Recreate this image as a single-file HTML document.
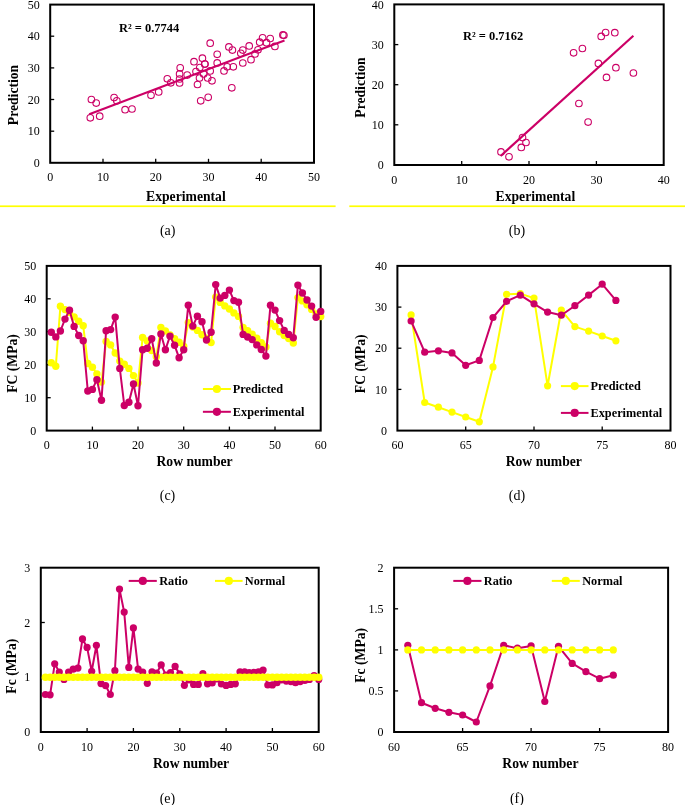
<!DOCTYPE html>
<html><head><meta charset="utf-8"><style>
html,body{margin:0;padding:0;background:#fff;}
body{width:685px;height:805px;overflow:hidden;}
svg{display:block;will-change:transform;}
.t{font-family:"Liberation Serif",serif;font-size:12px;fill:#000;}
.b{font-family:"Liberation Serif",serif;font-size:13.65px;font-weight:bold;fill:#000;}
.l{font-family:"Liberation Serif",serif;font-size:12.3px;font-weight:bold;fill:#000;}
.r{font-family:"Liberation Serif",serif;font-size:12.45px;font-weight:bold;fill:#000;}
.s{font-family:"Liberation Serif",serif;font-size:14px;fill:#000;}
</style></head><body>
<svg width="685" height="805" viewBox="0 0 685 805">
<rect width="685" height="805" fill="#fff"/>
<rect x="50.2" y="4.6" width="263.8" height="158.2" fill="none" stroke="#000" stroke-width="2"/>
<text x="39.7" y="166.9" class="t" text-anchor="end">0</text>
<line x1="50.2" y1="131.2" x2="54.2" y2="131.2" stroke="#000" stroke-width="1.3"/>
<text x="39.7" y="135.3" class="t" text-anchor="end">10</text>
<line x1="50.2" y1="99.5" x2="54.2" y2="99.5" stroke="#000" stroke-width="1.3"/>
<text x="39.7" y="103.6" class="t" text-anchor="end">20</text>
<line x1="50.2" y1="67.9" x2="54.2" y2="67.9" stroke="#000" stroke-width="1.3"/>
<text x="39.7" y="72" class="t" text-anchor="end">30</text>
<line x1="50.2" y1="36.2" x2="54.2" y2="36.2" stroke="#000" stroke-width="1.3"/>
<text x="39.7" y="40.3" class="t" text-anchor="end">40</text>
<text x="39.7" y="8.7" class="t" text-anchor="end">50</text>
<text x="50.2" y="180.9" class="t" text-anchor="middle">0</text>
<line x1="103" y1="162.8" x2="103" y2="158.8" stroke="#000" stroke-width="1.3"/>
<text x="103" y="180.9" class="t" text-anchor="middle">10</text>
<line x1="155.7" y1="162.8" x2="155.7" y2="158.8" stroke="#000" stroke-width="1.3"/>
<text x="155.7" y="180.9" class="t" text-anchor="middle">20</text>
<line x1="208.5" y1="162.8" x2="208.5" y2="158.8" stroke="#000" stroke-width="1.3"/>
<text x="208.5" y="180.9" class="t" text-anchor="middle">30</text>
<line x1="261.2" y1="162.8" x2="261.2" y2="158.8" stroke="#000" stroke-width="1.3"/>
<text x="261.2" y="180.9" class="t" text-anchor="middle">40</text>
<text x="314" y="180.9" class="t" text-anchor="middle">50</text>
<line x1="89.2" y1="114.3" x2="284.5" y2="40.4" stroke="#cc0066" stroke-width="2.1"/>
<circle cx="91.4" cy="99.5" r="3.3" fill="none" stroke="#cc0066" stroke-width="1.1"/>
<circle cx="96.2" cy="103.1" r="3.3" fill="none" stroke="#cc0066" stroke-width="1.1"/>
<circle cx="90.3" cy="117.8" r="3.3" fill="none" stroke="#cc0066" stroke-width="1.1"/>
<circle cx="99.7" cy="116.2" r="3.3" fill="none" stroke="#cc0066" stroke-width="1.1"/>
<circle cx="114.1" cy="97.6" r="3.3" fill="none" stroke="#cc0066" stroke-width="1.1"/>
<circle cx="116.8" cy="100.8" r="3.3" fill="none" stroke="#cc0066" stroke-width="1.1"/>
<circle cx="125.1" cy="109.7" r="3.3" fill="none" stroke="#cc0066" stroke-width="1.1"/>
<circle cx="132" cy="109" r="3.3" fill="none" stroke="#cc0066" stroke-width="1.1"/>
<circle cx="151" cy="95.3" r="3.3" fill="none" stroke="#cc0066" stroke-width="1.1"/>
<circle cx="158.7" cy="91.9" r="3.3" fill="none" stroke="#cc0066" stroke-width="1.1"/>
<circle cx="167.3" cy="78.8" r="3.3" fill="none" stroke="#cc0066" stroke-width="1.1"/>
<circle cx="170.8" cy="82.8" r="3.3" fill="none" stroke="#cc0066" stroke-width="1.1"/>
<circle cx="180.2" cy="67.8" r="3.3" fill="none" stroke="#cc0066" stroke-width="1.1"/>
<circle cx="179.6" cy="73.9" r="3.3" fill="none" stroke="#cc0066" stroke-width="1.1"/>
<circle cx="179.6" cy="79" r="3.3" fill="none" stroke="#cc0066" stroke-width="1.1"/>
<circle cx="179.6" cy="83" r="3.3" fill="none" stroke="#cc0066" stroke-width="1.1"/>
<circle cx="187.2" cy="75.1" r="3.3" fill="none" stroke="#cc0066" stroke-width="1.1"/>
<circle cx="194" cy="61.7" r="3.3" fill="none" stroke="#cc0066" stroke-width="1.1"/>
<circle cx="202.4" cy="58.2" r="3.3" fill="none" stroke="#cc0066" stroke-width="1.1"/>
<circle cx="204.7" cy="64" r="3.3" fill="none" stroke="#cc0066" stroke-width="1.1"/>
<circle cx="199.8" cy="67.5" r="3.3" fill="none" stroke="#cc0066" stroke-width="1.1"/>
<circle cx="196" cy="71.6" r="3.3" fill="none" stroke="#cc0066" stroke-width="1.1"/>
<circle cx="199.5" cy="78" r="3.3" fill="none" stroke="#cc0066" stroke-width="1.1"/>
<circle cx="197.5" cy="84.5" r="3.3" fill="none" stroke="#cc0066" stroke-width="1.1"/>
<circle cx="203.6" cy="73.9" r="3.3" fill="none" stroke="#cc0066" stroke-width="1.1"/>
<circle cx="207.7" cy="78" r="3.3" fill="none" stroke="#cc0066" stroke-width="1.1"/>
<circle cx="200.7" cy="100.8" r="3.3" fill="none" stroke="#cc0066" stroke-width="1.1"/>
<circle cx="208.2" cy="97.3" r="3.3" fill="none" stroke="#cc0066" stroke-width="1.1"/>
<circle cx="210.2" cy="43.2" r="3.3" fill="none" stroke="#cc0066" stroke-width="1.1"/>
<circle cx="228.9" cy="46.9" r="3.3" fill="none" stroke="#cc0066" stroke-width="1.1"/>
<circle cx="232.4" cy="50.1" r="3.3" fill="none" stroke="#cc0066" stroke-width="1.1"/>
<circle cx="217.2" cy="54.3" r="3.3" fill="none" stroke="#cc0066" stroke-width="1.1"/>
<circle cx="205" cy="64.1" r="3.3" fill="none" stroke="#cc0066" stroke-width="1.1"/>
<circle cx="217.2" cy="62.9" r="3.3" fill="none" stroke="#cc0066" stroke-width="1.1"/>
<circle cx="227.2" cy="66.8" r="3.3" fill="none" stroke="#cc0066" stroke-width="1.1"/>
<circle cx="233.3" cy="66.8" r="3.3" fill="none" stroke="#cc0066" stroke-width="1.1"/>
<circle cx="224" cy="70.9" r="3.3" fill="none" stroke="#cc0066" stroke-width="1.1"/>
<circle cx="210.2" cy="70.9" r="3.3" fill="none" stroke="#cc0066" stroke-width="1.1"/>
<circle cx="212" cy="80.8" r="3.3" fill="none" stroke="#cc0066" stroke-width="1.1"/>
<circle cx="231.8" cy="87.8" r="3.3" fill="none" stroke="#cc0066" stroke-width="1.1"/>
<circle cx="240.8" cy="53.3" r="3.3" fill="none" stroke="#cc0066" stroke-width="1.1"/>
<circle cx="282.9" cy="34.9" r="3.3" fill="none" stroke="#cc0066" stroke-width="1.1"/>
<circle cx="283.9" cy="35.3" r="3.3" fill="none" stroke="#cc0066" stroke-width="1.1"/>
<circle cx="270.2" cy="38.5" r="3.3" fill="none" stroke="#cc0066" stroke-width="1.1"/>
<circle cx="262.6" cy="37.8" r="3.3" fill="none" stroke="#cc0066" stroke-width="1.1"/>
<circle cx="259.7" cy="42.2" r="3.3" fill="none" stroke="#cc0066" stroke-width="1.1"/>
<circle cx="266.5" cy="42.7" r="3.3" fill="none" stroke="#cc0066" stroke-width="1.1"/>
<circle cx="274.9" cy="46.4" r="3.3" fill="none" stroke="#cc0066" stroke-width="1.1"/>
<circle cx="249.2" cy="45.9" r="3.3" fill="none" stroke="#cc0066" stroke-width="1.1"/>
<circle cx="242.8" cy="50.1" r="3.3" fill="none" stroke="#cc0066" stroke-width="1.1"/>
<circle cx="258" cy="49.8" r="3.3" fill="none" stroke="#cc0066" stroke-width="1.1"/>
<circle cx="255" cy="53.9" r="3.3" fill="none" stroke="#cc0066" stroke-width="1.1"/>
<circle cx="251" cy="59.7" r="3.3" fill="none" stroke="#cc0066" stroke-width="1.1"/>
<circle cx="242.8" cy="63" r="3.3" fill="none" stroke="#cc0066" stroke-width="1.1"/>
<text x="119" y="32" class="r">R² = 0.7744</text>
<text transform="translate(17.5,95) rotate(-90)" class="b" text-anchor="middle">Prediction</text>
<text x="185.9" y="201" class="b" text-anchor="middle">Experimental</text>
<rect x="394.3" y="4.4" width="269.4" height="160.6" fill="none" stroke="#000" stroke-width="2"/>
<text x="383.8" y="169.1" class="t" text-anchor="end">0</text>
<line x1="394.3" y1="124.8" x2="398.3" y2="124.8" stroke="#000" stroke-width="1.3"/>
<text x="383.8" y="128.9" class="t" text-anchor="end">10</text>
<line x1="394.3" y1="84.7" x2="398.3" y2="84.7" stroke="#000" stroke-width="1.3"/>
<text x="383.8" y="88.8" class="t" text-anchor="end">20</text>
<line x1="394.3" y1="44.6" x2="398.3" y2="44.6" stroke="#000" stroke-width="1.3"/>
<text x="383.8" y="48.7" class="t" text-anchor="end">30</text>
<text x="383.8" y="8.5" class="t" text-anchor="end">40</text>
<text x="394.3" y="183.8" class="t" text-anchor="middle">0</text>
<line x1="461.7" y1="165" x2="461.7" y2="161" stroke="#000" stroke-width="1.3"/>
<text x="461.7" y="183.8" class="t" text-anchor="middle">10</text>
<line x1="529" y1="165" x2="529" y2="161" stroke="#000" stroke-width="1.3"/>
<text x="529" y="183.8" class="t" text-anchor="middle">20</text>
<line x1="596.4" y1="165" x2="596.4" y2="161" stroke="#000" stroke-width="1.3"/>
<text x="596.4" y="183.8" class="t" text-anchor="middle">30</text>
<text x="663.7" y="183.8" class="t" text-anchor="middle">40</text>
<line x1="500.6" y1="156" x2="633.4" y2="35.8" stroke="#cc0066" stroke-width="2.2"/>
<circle cx="605.6" cy="32.5" r="3.3" fill="none" stroke="#cc0066" stroke-width="1.1"/>
<circle cx="614.8" cy="32.7" r="3.3" fill="none" stroke="#cc0066" stroke-width="1.1"/>
<circle cx="601.2" cy="36.4" r="3.3" fill="none" stroke="#cc0066" stroke-width="1.1"/>
<circle cx="582.4" cy="48.5" r="3.3" fill="none" stroke="#cc0066" stroke-width="1.1"/>
<circle cx="573.6" cy="52.8" r="3.3" fill="none" stroke="#cc0066" stroke-width="1.1"/>
<circle cx="598.4" cy="63.4" r="3.3" fill="none" stroke="#cc0066" stroke-width="1.1"/>
<circle cx="615.9" cy="67.7" r="3.3" fill="none" stroke="#cc0066" stroke-width="1.1"/>
<circle cx="606.5" cy="77.4" r="3.3" fill="none" stroke="#cc0066" stroke-width="1.1"/>
<circle cx="633.4" cy="73" r="3.3" fill="none" stroke="#cc0066" stroke-width="1.1"/>
<circle cx="578.9" cy="103.5" r="3.3" fill="none" stroke="#cc0066" stroke-width="1.1"/>
<circle cx="588.1" cy="122.1" r="3.3" fill="none" stroke="#cc0066" stroke-width="1.1"/>
<circle cx="522.5" cy="137.6" r="3.3" fill="none" stroke="#cc0066" stroke-width="1.1"/>
<circle cx="526" cy="142.5" r="3.3" fill="none" stroke="#cc0066" stroke-width="1.1"/>
<circle cx="521.3" cy="147.4" r="3.3" fill="none" stroke="#cc0066" stroke-width="1.1"/>
<circle cx="501" cy="151.9" r="3.3" fill="none" stroke="#cc0066" stroke-width="1.1"/>
<circle cx="509" cy="156.8" r="3.3" fill="none" stroke="#cc0066" stroke-width="1.1"/>
<text x="463" y="39.6" class="r">R² = 0.7162</text>
<text transform="translate(365.4,87.5) rotate(-90)" class="b" text-anchor="middle">Prediction</text>
<text x="535.4" y="200.6" class="b" text-anchor="middle">Experimental</text>
<rect x="0" y="205.4" width="335.6" height="1.7" fill="#ffff00"/>
<rect x="349.3" y="205.4" width="335.7" height="1.7" fill="#ffff00"/>
<text x="167.7" y="235.2" class="s" text-anchor="middle">(a)</text>
<text x="517" y="235.4" class="s" text-anchor="middle">(b)</text>
<rect x="46.7" y="265.9" width="274" height="164.7" fill="none" stroke="#000" stroke-width="2"/>
<text x="36.2" y="434.7" class="t" text-anchor="end">0</text>
<line x1="46.7" y1="397.7" x2="50.7" y2="397.7" stroke="#000" stroke-width="1.3"/>
<text x="36.2" y="401.8" class="t" text-anchor="end">10</text>
<line x1="46.7" y1="364.7" x2="50.7" y2="364.7" stroke="#000" stroke-width="1.3"/>
<text x="36.2" y="368.8" class="t" text-anchor="end">20</text>
<line x1="46.7" y1="331.8" x2="50.7" y2="331.8" stroke="#000" stroke-width="1.3"/>
<text x="36.2" y="335.9" class="t" text-anchor="end">30</text>
<line x1="46.7" y1="298.8" x2="50.7" y2="298.8" stroke="#000" stroke-width="1.3"/>
<text x="36.2" y="302.9" class="t" text-anchor="end">40</text>
<text x="36.2" y="270" class="t" text-anchor="end">50</text>
<text x="46.7" y="449.4" class="t" text-anchor="middle">0</text>
<line x1="92.4" y1="430.6" x2="92.4" y2="426.6" stroke="#000" stroke-width="1.3"/>
<text x="92.4" y="449.4" class="t" text-anchor="middle">10</text>
<line x1="138" y1="430.6" x2="138" y2="426.6" stroke="#000" stroke-width="1.3"/>
<text x="138" y="449.4" class="t" text-anchor="middle">20</text>
<line x1="183.7" y1="430.6" x2="183.7" y2="426.6" stroke="#000" stroke-width="1.3"/>
<text x="183.7" y="449.4" class="t" text-anchor="middle">30</text>
<line x1="229.4" y1="430.6" x2="229.4" y2="426.6" stroke="#000" stroke-width="1.3"/>
<text x="229.4" y="449.4" class="t" text-anchor="middle">40</text>
<line x1="275" y1="430.6" x2="275" y2="426.6" stroke="#000" stroke-width="1.3"/>
<text x="275" y="449.4" class="t" text-anchor="middle">50</text>
<text x="320.7" y="449.4" class="t" text-anchor="middle">60</text>
<polyline points="51.3,362.7 55.8,366.3 60.4,306.3 65,309.6 69.5,312.5 74.1,316.9 78.7,321.3 83.2,325.7 87.8,363.5 92.4,367.2 96.9,374 101.5,382.1 106.1,341.4 110.6,344.9 115.2,353 119.8,361.1 124.3,364.3 128.9,368.4 133.5,375.6 138,383 142.6,337.5 147.2,341 151.7,350.5 156.3,356.8 160.9,327.4 165.4,330.9 170,334.9 174.6,338.8 179.1,342.3 183.7,346.3 188.3,322.6 192.8,327 197.4,330.4 202,334.8 206.5,338.3 211.1,342.6 215.7,297.1 220.2,302.4 224.8,305.9 229.4,309 233.9,312.9 238.5,316.4 243.1,327.5 247.6,330.8 252.2,334.2 256.8,338.3 261.3,342.6 265.9,346.9 270.5,323.2 275,326.5 279.6,331.8 284.2,335.5 288.7,338.5 293.3,343 297.9,297.6 302.4,300.9 307,304.8 311.6,309.4 316.1,314 320.7,316.6" fill="none" stroke="#ffff00" stroke-width="2" stroke-linejoin="round"/>
<circle cx="51.3" cy="362.7" r="3.7" fill="#ffff00"/>
<circle cx="55.8" cy="366.3" r="3.7" fill="#ffff00"/>
<circle cx="60.4" cy="306.3" r="3.7" fill="#ffff00"/>
<circle cx="65" cy="309.6" r="3.7" fill="#ffff00"/>
<circle cx="69.5" cy="312.5" r="3.7" fill="#ffff00"/>
<circle cx="74.1" cy="316.9" r="3.7" fill="#ffff00"/>
<circle cx="78.7" cy="321.3" r="3.7" fill="#ffff00"/>
<circle cx="83.2" cy="325.7" r="3.7" fill="#ffff00"/>
<circle cx="87.8" cy="363.5" r="3.7" fill="#ffff00"/>
<circle cx="92.4" cy="367.2" r="3.7" fill="#ffff00"/>
<circle cx="96.9" cy="374" r="3.7" fill="#ffff00"/>
<circle cx="101.5" cy="382.1" r="3.7" fill="#ffff00"/>
<circle cx="106.1" cy="341.4" r="3.7" fill="#ffff00"/>
<circle cx="110.6" cy="344.9" r="3.7" fill="#ffff00"/>
<circle cx="115.2" cy="353" r="3.7" fill="#ffff00"/>
<circle cx="119.8" cy="361.1" r="3.7" fill="#ffff00"/>
<circle cx="124.3" cy="364.3" r="3.7" fill="#ffff00"/>
<circle cx="128.9" cy="368.4" r="3.7" fill="#ffff00"/>
<circle cx="133.5" cy="375.6" r="3.7" fill="#ffff00"/>
<circle cx="138" cy="383" r="3.7" fill="#ffff00"/>
<circle cx="142.6" cy="337.5" r="3.7" fill="#ffff00"/>
<circle cx="147.2" cy="341" r="3.7" fill="#ffff00"/>
<circle cx="151.7" cy="350.5" r="3.7" fill="#ffff00"/>
<circle cx="156.3" cy="356.8" r="3.7" fill="#ffff00"/>
<circle cx="160.9" cy="327.4" r="3.7" fill="#ffff00"/>
<circle cx="165.4" cy="330.9" r="3.7" fill="#ffff00"/>
<circle cx="170" cy="334.9" r="3.7" fill="#ffff00"/>
<circle cx="174.6" cy="338.8" r="3.7" fill="#ffff00"/>
<circle cx="179.1" cy="342.3" r="3.7" fill="#ffff00"/>
<circle cx="183.7" cy="346.3" r="3.7" fill="#ffff00"/>
<circle cx="188.3" cy="322.6" r="3.7" fill="#ffff00"/>
<circle cx="192.8" cy="327" r="3.7" fill="#ffff00"/>
<circle cx="197.4" cy="330.4" r="3.7" fill="#ffff00"/>
<circle cx="202" cy="334.8" r="3.7" fill="#ffff00"/>
<circle cx="206.5" cy="338.3" r="3.7" fill="#ffff00"/>
<circle cx="211.1" cy="342.6" r="3.7" fill="#ffff00"/>
<circle cx="215.7" cy="297.1" r="3.7" fill="#ffff00"/>
<circle cx="220.2" cy="302.4" r="3.7" fill="#ffff00"/>
<circle cx="224.8" cy="305.9" r="3.7" fill="#ffff00"/>
<circle cx="229.4" cy="309" r="3.7" fill="#ffff00"/>
<circle cx="233.9" cy="312.9" r="3.7" fill="#ffff00"/>
<circle cx="238.5" cy="316.4" r="3.7" fill="#ffff00"/>
<circle cx="243.1" cy="327.5" r="3.7" fill="#ffff00"/>
<circle cx="247.6" cy="330.8" r="3.7" fill="#ffff00"/>
<circle cx="252.2" cy="334.2" r="3.7" fill="#ffff00"/>
<circle cx="256.8" cy="338.3" r="3.7" fill="#ffff00"/>
<circle cx="261.3" cy="342.6" r="3.7" fill="#ffff00"/>
<circle cx="265.9" cy="346.9" r="3.7" fill="#ffff00"/>
<circle cx="270.5" cy="323.2" r="3.7" fill="#ffff00"/>
<circle cx="275" cy="326.5" r="3.7" fill="#ffff00"/>
<circle cx="279.6" cy="331.8" r="3.7" fill="#ffff00"/>
<circle cx="284.2" cy="335.5" r="3.7" fill="#ffff00"/>
<circle cx="288.7" cy="338.5" r="3.7" fill="#ffff00"/>
<circle cx="293.3" cy="343" r="3.7" fill="#ffff00"/>
<circle cx="297.9" cy="297.6" r="3.7" fill="#ffff00"/>
<circle cx="302.4" cy="300.9" r="3.7" fill="#ffff00"/>
<circle cx="307" cy="304.8" r="3.7" fill="#ffff00"/>
<circle cx="311.6" cy="309.4" r="3.7" fill="#ffff00"/>
<circle cx="316.1" cy="314" r="3.7" fill="#ffff00"/>
<circle cx="320.7" cy="316.6" r="3.7" fill="#ffff00"/>
<polyline points="51.3,332.2 55.8,336.9 60.4,331 65,319.1 69.5,310.3 74.1,326.4 78.7,335.5 83.2,340.7 87.8,391 92.4,389.4 96.9,379.7 101.5,400.2 106.1,330.7 110.6,329.6 115.2,317.1 119.8,368.4 124.3,405.5 128.9,402.3 133.5,384 138,405.8 142.6,349.7 147.2,348.2 151.7,338.8 156.3,363 160.9,334 165.4,349.7 170,336.1 174.6,345.3 179.1,357.8 183.7,349.7 188.3,305.2 192.8,326.1 197.4,316.2 202,321.7 206.5,340 211.1,332.2 215.7,284.6 220.2,298.1 224.8,295.4 229.4,290.1 233.9,300.6 238.5,302.3 243.1,334.4 247.6,337 252.2,339.6 256.8,344.9 261.3,349.5 265.9,356.1 270.5,305.2 275,310.1 279.6,320.6 284.2,330.4 288.7,334.4 293.3,337.7 297.9,285.1 302.4,293 307,300 311.6,306.1 316.1,317.3 320.7,311.4" fill="none" stroke="#cc0066" stroke-width="2" stroke-linejoin="round"/>
<circle cx="51.3" cy="332.2" r="3.7" fill="#cc0066"/>
<circle cx="55.8" cy="336.9" r="3.7" fill="#cc0066"/>
<circle cx="60.4" cy="331" r="3.7" fill="#cc0066"/>
<circle cx="65" cy="319.1" r="3.7" fill="#cc0066"/>
<circle cx="69.5" cy="310.3" r="3.7" fill="#cc0066"/>
<circle cx="74.1" cy="326.4" r="3.7" fill="#cc0066"/>
<circle cx="78.7" cy="335.5" r="3.7" fill="#cc0066"/>
<circle cx="83.2" cy="340.7" r="3.7" fill="#cc0066"/>
<circle cx="87.8" cy="391" r="3.7" fill="#cc0066"/>
<circle cx="92.4" cy="389.4" r="3.7" fill="#cc0066"/>
<circle cx="96.9" cy="379.7" r="3.7" fill="#cc0066"/>
<circle cx="101.5" cy="400.2" r="3.7" fill="#cc0066"/>
<circle cx="106.1" cy="330.7" r="3.7" fill="#cc0066"/>
<circle cx="110.6" cy="329.6" r="3.7" fill="#cc0066"/>
<circle cx="115.2" cy="317.1" r="3.7" fill="#cc0066"/>
<circle cx="119.8" cy="368.4" r="3.7" fill="#cc0066"/>
<circle cx="124.3" cy="405.5" r="3.7" fill="#cc0066"/>
<circle cx="128.9" cy="402.3" r="3.7" fill="#cc0066"/>
<circle cx="133.5" cy="384" r="3.7" fill="#cc0066"/>
<circle cx="138" cy="405.8" r="3.7" fill="#cc0066"/>
<circle cx="142.6" cy="349.7" r="3.7" fill="#cc0066"/>
<circle cx="147.2" cy="348.2" r="3.7" fill="#cc0066"/>
<circle cx="151.7" cy="338.8" r="3.7" fill="#cc0066"/>
<circle cx="156.3" cy="363" r="3.7" fill="#cc0066"/>
<circle cx="160.9" cy="334" r="3.7" fill="#cc0066"/>
<circle cx="165.4" cy="349.7" r="3.7" fill="#cc0066"/>
<circle cx="170" cy="336.1" r="3.7" fill="#cc0066"/>
<circle cx="174.6" cy="345.3" r="3.7" fill="#cc0066"/>
<circle cx="179.1" cy="357.8" r="3.7" fill="#cc0066"/>
<circle cx="183.7" cy="349.7" r="3.7" fill="#cc0066"/>
<circle cx="188.3" cy="305.2" r="3.7" fill="#cc0066"/>
<circle cx="192.8" cy="326.1" r="3.7" fill="#cc0066"/>
<circle cx="197.4" cy="316.2" r="3.7" fill="#cc0066"/>
<circle cx="202" cy="321.7" r="3.7" fill="#cc0066"/>
<circle cx="206.5" cy="340" r="3.7" fill="#cc0066"/>
<circle cx="211.1" cy="332.2" r="3.7" fill="#cc0066"/>
<circle cx="215.7" cy="284.6" r="3.7" fill="#cc0066"/>
<circle cx="220.2" cy="298.1" r="3.7" fill="#cc0066"/>
<circle cx="224.8" cy="295.4" r="3.7" fill="#cc0066"/>
<circle cx="229.4" cy="290.1" r="3.7" fill="#cc0066"/>
<circle cx="233.9" cy="300.6" r="3.7" fill="#cc0066"/>
<circle cx="238.5" cy="302.3" r="3.7" fill="#cc0066"/>
<circle cx="243.1" cy="334.4" r="3.7" fill="#cc0066"/>
<circle cx="247.6" cy="337" r="3.7" fill="#cc0066"/>
<circle cx="252.2" cy="339.6" r="3.7" fill="#cc0066"/>
<circle cx="256.8" cy="344.9" r="3.7" fill="#cc0066"/>
<circle cx="261.3" cy="349.5" r="3.7" fill="#cc0066"/>
<circle cx="265.9" cy="356.1" r="3.7" fill="#cc0066"/>
<circle cx="270.5" cy="305.2" r="3.7" fill="#cc0066"/>
<circle cx="275" cy="310.1" r="3.7" fill="#cc0066"/>
<circle cx="279.6" cy="320.6" r="3.7" fill="#cc0066"/>
<circle cx="284.2" cy="330.4" r="3.7" fill="#cc0066"/>
<circle cx="288.7" cy="334.4" r="3.7" fill="#cc0066"/>
<circle cx="293.3" cy="337.7" r="3.7" fill="#cc0066"/>
<circle cx="297.9" cy="285.1" r="3.7" fill="#cc0066"/>
<circle cx="302.4" cy="293" r="3.7" fill="#cc0066"/>
<circle cx="307" cy="300" r="3.7" fill="#cc0066"/>
<circle cx="311.6" cy="306.1" r="3.7" fill="#cc0066"/>
<circle cx="316.1" cy="317.3" r="3.7" fill="#cc0066"/>
<circle cx="320.7" cy="311.4" r="3.7" fill="#cc0066"/>
<line x1="202.9" y1="389" x2="230.9" y2="389" stroke="#ffff00" stroke-width="2"/>
<circle cx="216.9" cy="389" r="4.1" fill="#ffff00"/>
<text x="232.8" y="392.9" class="l">Predicted</text>
<line x1="202.9" y1="411.8" x2="230.9" y2="411.8" stroke="#cc0066" stroke-width="2"/>
<circle cx="216.9" cy="411.8" r="4.1" fill="#cc0066"/>
<text x="232.8" y="415.7" class="l">Experimental</text>
<text transform="translate(16.8,363.5) rotate(-90)" class="b" text-anchor="middle">FC (MPa)</text>
<text x="194.6" y="465.8" class="b" text-anchor="middle">Row number</text>
<text x="167.5" y="500.3" class="s" text-anchor="middle">(c)</text>
<rect x="397.4" y="265.9" width="273.1" height="164.7" fill="none" stroke="#000" stroke-width="2"/>
<text x="386.9" y="434.7" class="t" text-anchor="end">0</text>
<line x1="397.4" y1="389.4" x2="401.4" y2="389.4" stroke="#000" stroke-width="1.3"/>
<text x="386.9" y="393.5" class="t" text-anchor="end">10</text>
<line x1="397.4" y1="348.2" x2="401.4" y2="348.2" stroke="#000" stroke-width="1.3"/>
<text x="386.9" y="352.4" class="t" text-anchor="end">20</text>
<line x1="397.4" y1="307.1" x2="401.4" y2="307.1" stroke="#000" stroke-width="1.3"/>
<text x="386.9" y="311.2" class="t" text-anchor="end">30</text>
<text x="386.9" y="270" class="t" text-anchor="end">40</text>
<text x="397.4" y="449.4" class="t" text-anchor="middle">60</text>
<line x1="465.7" y1="430.6" x2="465.7" y2="426.6" stroke="#000" stroke-width="1.3"/>
<text x="465.7" y="449.4" class="t" text-anchor="middle">65</text>
<line x1="534" y1="430.6" x2="534" y2="426.6" stroke="#000" stroke-width="1.3"/>
<text x="534" y="449.4" class="t" text-anchor="middle">70</text>
<line x1="602.2" y1="430.6" x2="602.2" y2="426.6" stroke="#000" stroke-width="1.3"/>
<text x="602.2" y="449.4" class="t" text-anchor="middle">75</text>
<text x="670.5" y="449.4" class="t" text-anchor="middle">80</text>
<polyline points="411.1,314.9 424.7,402.5 438.4,407.2 452,412.1 465.7,417 479.3,421.8 493,366.9 506.6,294.3 520.3,293.7 534,298.1 547.6,385.8 561.3,310.2 574.9,326.6 588.6,331.1 602.2,336 615.9,340.8" fill="none" stroke="#ffff00" stroke-width="2" stroke-linejoin="round"/>
<circle cx="411.1" cy="314.9" r="3.6" fill="#ffff00"/>
<circle cx="424.7" cy="402.5" r="3.6" fill="#ffff00"/>
<circle cx="438.4" cy="407.2" r="3.6" fill="#ffff00"/>
<circle cx="452" cy="412.1" r="3.6" fill="#ffff00"/>
<circle cx="465.7" cy="417" r="3.6" fill="#ffff00"/>
<circle cx="479.3" cy="421.8" r="3.6" fill="#ffff00"/>
<circle cx="493" cy="366.9" r="3.6" fill="#ffff00"/>
<circle cx="506.6" cy="294.3" r="3.6" fill="#ffff00"/>
<circle cx="520.3" cy="293.7" r="3.6" fill="#ffff00"/>
<circle cx="534" cy="298.1" r="3.6" fill="#ffff00"/>
<circle cx="547.6" cy="385.8" r="3.6" fill="#ffff00"/>
<circle cx="561.3" cy="310.2" r="3.6" fill="#ffff00"/>
<circle cx="574.9" cy="326.6" r="3.6" fill="#ffff00"/>
<circle cx="588.6" cy="331.1" r="3.6" fill="#ffff00"/>
<circle cx="602.2" cy="336" r="3.6" fill="#ffff00"/>
<circle cx="615.9" cy="340.8" r="3.6" fill="#ffff00"/>
<polyline points="411.1,321 424.7,352.2 438.4,350.8 452,352.9 465.7,365.3 479.3,360.4 493,317.5 506.6,301.3 520.3,295.2 534,303.8 547.6,312.1 561.3,315.2 574.9,305.7 588.6,295.1 602.2,284.2 615.9,300.4" fill="none" stroke="#cc0066" stroke-width="2" stroke-linejoin="round"/>
<circle cx="411.1" cy="321" r="3.6" fill="#cc0066"/>
<circle cx="424.7" cy="352.2" r="3.6" fill="#cc0066"/>
<circle cx="438.4" cy="350.8" r="3.6" fill="#cc0066"/>
<circle cx="452" cy="352.9" r="3.6" fill="#cc0066"/>
<circle cx="465.7" cy="365.3" r="3.6" fill="#cc0066"/>
<circle cx="479.3" cy="360.4" r="3.6" fill="#cc0066"/>
<circle cx="493" cy="317.5" r="3.6" fill="#cc0066"/>
<circle cx="506.6" cy="301.3" r="3.6" fill="#cc0066"/>
<circle cx="520.3" cy="295.2" r="3.6" fill="#cc0066"/>
<circle cx="534" cy="303.8" r="3.6" fill="#cc0066"/>
<circle cx="547.6" cy="312.1" r="3.6" fill="#cc0066"/>
<circle cx="561.3" cy="315.2" r="3.6" fill="#cc0066"/>
<circle cx="574.9" cy="305.7" r="3.6" fill="#cc0066"/>
<circle cx="588.6" cy="295.1" r="3.6" fill="#cc0066"/>
<circle cx="602.2" cy="284.2" r="3.6" fill="#cc0066"/>
<circle cx="615.9" cy="300.4" r="3.6" fill="#cc0066"/>
<line x1="560.9" y1="386.1" x2="588.5" y2="386.1" stroke="#ffff00" stroke-width="2"/>
<circle cx="574.7" cy="386.1" r="4.1" fill="#ffff00"/>
<text x="590.5" y="390" class="l">Predicted</text>
<line x1="560.9" y1="412.9" x2="588.5" y2="412.9" stroke="#cc0066" stroke-width="2"/>
<circle cx="574.7" cy="412.9" r="4.1" fill="#cc0066"/>
<text x="590.5" y="416.8" class="l">Experimental</text>
<text transform="translate(365.2,363.8) rotate(-90)" class="b" text-anchor="middle">FC (MPa)</text>
<text x="543.8" y="466" class="b" text-anchor="middle">Row number</text>
<text x="517" y="500.4" class="s" text-anchor="middle">(d)</text>
<rect x="40.8" y="567.7" width="277.9" height="164.3" fill="none" stroke="#000" stroke-width="2"/>
<text x="30.3" y="736.1" class="t" text-anchor="end">0</text>
<line x1="40.8" y1="677.2" x2="44.8" y2="677.2" stroke="#000" stroke-width="1.3"/>
<text x="30.3" y="681.3" class="t" text-anchor="end">1</text>
<line x1="40.8" y1="622.5" x2="44.8" y2="622.5" stroke="#000" stroke-width="1.3"/>
<text x="30.3" y="626.6" class="t" text-anchor="end">2</text>
<text x="30.3" y="571.8" class="t" text-anchor="end">3</text>
<text x="40.8" y="750.8" class="t" text-anchor="middle">0</text>
<line x1="87.1" y1="732" x2="87.1" y2="728" stroke="#000" stroke-width="1.3"/>
<text x="87.1" y="750.8" class="t" text-anchor="middle">10</text>
<line x1="133.4" y1="732" x2="133.4" y2="728" stroke="#000" stroke-width="1.3"/>
<text x="133.4" y="750.8" class="t" text-anchor="middle">20</text>
<line x1="179.8" y1="732" x2="179.8" y2="728" stroke="#000" stroke-width="1.3"/>
<text x="179.8" y="750.8" class="t" text-anchor="middle">30</text>
<line x1="226.1" y1="732" x2="226.1" y2="728" stroke="#000" stroke-width="1.3"/>
<text x="226.1" y="750.8" class="t" text-anchor="middle">40</text>
<line x1="272.4" y1="732" x2="272.4" y2="728" stroke="#000" stroke-width="1.3"/>
<text x="272.4" y="750.8" class="t" text-anchor="middle">50</text>
<text x="318.7" y="750.8" class="t" text-anchor="middle">60</text>
<polyline points="45.4,694.5 50.1,694.8 54.7,663.8 59.3,672 64,679.4 68.6,672 73.2,669.2 77.9,668.1 82.5,638.9 87.1,647.4 91.7,671.3 96.4,645.3 101,683.6 105.6,685.6 110.3,694.5 114.9,670.7 119.5,589.1 124.2,612.1 128.8,667.4 133.4,627.9 138.1,669.1 142.7,672.1 147.3,683.3 152,671.8 156.6,673.1 161.2,664.9 165.9,675 170.5,672.6 175.1,666.4 179.8,673.9 184.4,685.3 189,680 193.6,684.4 198.3,684.4 202.9,673.7 207.5,683.8 212.2,683 216.8,678.9 221.4,684 226.1,685.4 230.7,684.4 235.3,683.8 240,671.8 244.6,671.8 249.2,672.6 253.9,672.3 258.5,671.8 263.1,670.1 267.8,685 272.4,684.9 277,682.7 281.6,680 286.3,681.1 290.9,681.6 295.5,682.7 300.2,681.6 304.8,680.5 309.4,679.4 314.1,675.6 318.7,679.4" fill="none" stroke="#cc0066" stroke-width="2" stroke-linejoin="round"/>
<circle cx="45.4" cy="694.5" r="3.6" fill="#cc0066"/>
<circle cx="50.1" cy="694.8" r="3.6" fill="#cc0066"/>
<circle cx="54.7" cy="663.8" r="3.6" fill="#cc0066"/>
<circle cx="59.3" cy="672" r="3.6" fill="#cc0066"/>
<circle cx="64" cy="679.4" r="3.6" fill="#cc0066"/>
<circle cx="68.6" cy="672" r="3.6" fill="#cc0066"/>
<circle cx="73.2" cy="669.2" r="3.6" fill="#cc0066"/>
<circle cx="77.9" cy="668.1" r="3.6" fill="#cc0066"/>
<circle cx="82.5" cy="638.9" r="3.6" fill="#cc0066"/>
<circle cx="87.1" cy="647.4" r="3.6" fill="#cc0066"/>
<circle cx="91.7" cy="671.3" r="3.6" fill="#cc0066"/>
<circle cx="96.4" cy="645.3" r="3.6" fill="#cc0066"/>
<circle cx="101" cy="683.6" r="3.6" fill="#cc0066"/>
<circle cx="105.6" cy="685.6" r="3.6" fill="#cc0066"/>
<circle cx="110.3" cy="694.5" r="3.6" fill="#cc0066"/>
<circle cx="114.9" cy="670.7" r="3.6" fill="#cc0066"/>
<circle cx="119.5" cy="589.1" r="3.6" fill="#cc0066"/>
<circle cx="124.2" cy="612.1" r="3.6" fill="#cc0066"/>
<circle cx="128.8" cy="667.4" r="3.6" fill="#cc0066"/>
<circle cx="133.4" cy="627.9" r="3.6" fill="#cc0066"/>
<circle cx="138.1" cy="669.1" r="3.6" fill="#cc0066"/>
<circle cx="142.7" cy="672.1" r="3.6" fill="#cc0066"/>
<circle cx="147.3" cy="683.3" r="3.6" fill="#cc0066"/>
<circle cx="152" cy="671.8" r="3.6" fill="#cc0066"/>
<circle cx="156.6" cy="673.1" r="3.6" fill="#cc0066"/>
<circle cx="161.2" cy="664.9" r="3.6" fill="#cc0066"/>
<circle cx="165.9" cy="675" r="3.6" fill="#cc0066"/>
<circle cx="170.5" cy="672.6" r="3.6" fill="#cc0066"/>
<circle cx="175.1" cy="666.4" r="3.6" fill="#cc0066"/>
<circle cx="179.8" cy="673.9" r="3.6" fill="#cc0066"/>
<circle cx="184.4" cy="685.3" r="3.6" fill="#cc0066"/>
<circle cx="189" cy="680" r="3.6" fill="#cc0066"/>
<circle cx="193.6" cy="684.4" r="3.6" fill="#cc0066"/>
<circle cx="198.3" cy="684.4" r="3.6" fill="#cc0066"/>
<circle cx="202.9" cy="673.7" r="3.6" fill="#cc0066"/>
<circle cx="207.5" cy="683.8" r="3.6" fill="#cc0066"/>
<circle cx="212.2" cy="683" r="3.6" fill="#cc0066"/>
<circle cx="216.8" cy="678.9" r="3.6" fill="#cc0066"/>
<circle cx="221.4" cy="684" r="3.6" fill="#cc0066"/>
<circle cx="226.1" cy="685.4" r="3.6" fill="#cc0066"/>
<circle cx="230.7" cy="684.4" r="3.6" fill="#cc0066"/>
<circle cx="235.3" cy="683.8" r="3.6" fill="#cc0066"/>
<circle cx="240" cy="671.8" r="3.6" fill="#cc0066"/>
<circle cx="244.6" cy="671.8" r="3.6" fill="#cc0066"/>
<circle cx="249.2" cy="672.6" r="3.6" fill="#cc0066"/>
<circle cx="253.9" cy="672.3" r="3.6" fill="#cc0066"/>
<circle cx="258.5" cy="671.8" r="3.6" fill="#cc0066"/>
<circle cx="263.1" cy="670.1" r="3.6" fill="#cc0066"/>
<circle cx="267.8" cy="685" r="3.6" fill="#cc0066"/>
<circle cx="272.4" cy="684.9" r="3.6" fill="#cc0066"/>
<circle cx="277" cy="682.7" r="3.6" fill="#cc0066"/>
<circle cx="281.6" cy="680" r="3.6" fill="#cc0066"/>
<circle cx="286.3" cy="681.1" r="3.6" fill="#cc0066"/>
<circle cx="290.9" cy="681.6" r="3.6" fill="#cc0066"/>
<circle cx="295.5" cy="682.7" r="3.6" fill="#cc0066"/>
<circle cx="300.2" cy="681.6" r="3.6" fill="#cc0066"/>
<circle cx="304.8" cy="680.5" r="3.6" fill="#cc0066"/>
<circle cx="309.4" cy="679.4" r="3.6" fill="#cc0066"/>
<circle cx="314.1" cy="675.6" r="3.6" fill="#cc0066"/>
<circle cx="318.7" cy="679.4" r="3.6" fill="#cc0066"/>
<polyline points="45.4,677.2 50.1,677.2 54.7,677.2 59.3,677.2 64,677.2 68.6,677.2 73.2,677.2 77.9,677.2 82.5,677.2 87.1,677.2 91.7,677.2 96.4,677.2 101,677.2 105.6,677.2 110.3,677.2 114.9,677.2 119.5,677.2 124.2,677.2 128.8,677.2 133.4,677.2 138.1,677.2 142.7,677.2 147.3,677.2 152,677.2 156.6,677.2 161.2,677.2 165.9,677.2 170.5,677.2 175.1,677.2 179.8,677.2 184.4,677.2 189,677.2 193.6,677.2 198.3,677.2 202.9,677.2 207.5,677.2 212.2,677.2 216.8,677.2 221.4,677.2 226.1,677.2 230.7,677.2 235.3,677.2 240,677.2 244.6,677.2 249.2,677.2 253.9,677.2 258.5,677.2 263.1,677.2 267.8,677.2 272.4,677.2 277,677.2 281.6,677.2 286.3,677.2 290.9,677.2 295.5,677.2 300.2,677.2 304.8,677.2 309.4,677.2 314.1,677.2 318.7,677.2" fill="none" stroke="#ffff00" stroke-width="2" stroke-linejoin="round"/>
<circle cx="45.4" cy="677.2" r="3.8" fill="#ffff00"/>
<circle cx="50.1" cy="677.2" r="3.8" fill="#ffff00"/>
<circle cx="54.7" cy="677.2" r="3.8" fill="#ffff00"/>
<circle cx="59.3" cy="677.2" r="3.8" fill="#ffff00"/>
<circle cx="64" cy="677.2" r="3.8" fill="#ffff00"/>
<circle cx="68.6" cy="677.2" r="3.8" fill="#ffff00"/>
<circle cx="73.2" cy="677.2" r="3.8" fill="#ffff00"/>
<circle cx="77.9" cy="677.2" r="3.8" fill="#ffff00"/>
<circle cx="82.5" cy="677.2" r="3.8" fill="#ffff00"/>
<circle cx="87.1" cy="677.2" r="3.8" fill="#ffff00"/>
<circle cx="91.7" cy="677.2" r="3.8" fill="#ffff00"/>
<circle cx="96.4" cy="677.2" r="3.8" fill="#ffff00"/>
<circle cx="101" cy="677.2" r="3.8" fill="#ffff00"/>
<circle cx="105.6" cy="677.2" r="3.8" fill="#ffff00"/>
<circle cx="110.3" cy="677.2" r="3.8" fill="#ffff00"/>
<circle cx="114.9" cy="677.2" r="3.8" fill="#ffff00"/>
<circle cx="119.5" cy="677.2" r="3.8" fill="#ffff00"/>
<circle cx="124.2" cy="677.2" r="3.8" fill="#ffff00"/>
<circle cx="128.8" cy="677.2" r="3.8" fill="#ffff00"/>
<circle cx="133.4" cy="677.2" r="3.8" fill="#ffff00"/>
<circle cx="138.1" cy="677.2" r="3.8" fill="#ffff00"/>
<circle cx="142.7" cy="677.2" r="3.8" fill="#ffff00"/>
<circle cx="147.3" cy="677.2" r="3.8" fill="#ffff00"/>
<circle cx="152" cy="677.2" r="3.8" fill="#ffff00"/>
<circle cx="156.6" cy="677.2" r="3.8" fill="#ffff00"/>
<circle cx="161.2" cy="677.2" r="3.8" fill="#ffff00"/>
<circle cx="165.9" cy="677.2" r="3.8" fill="#ffff00"/>
<circle cx="170.5" cy="677.2" r="3.8" fill="#ffff00"/>
<circle cx="175.1" cy="677.2" r="3.8" fill="#ffff00"/>
<circle cx="179.8" cy="677.2" r="3.8" fill="#ffff00"/>
<circle cx="184.4" cy="677.2" r="3.8" fill="#ffff00"/>
<circle cx="189" cy="677.2" r="3.8" fill="#ffff00"/>
<circle cx="193.6" cy="677.2" r="3.8" fill="#ffff00"/>
<circle cx="198.3" cy="677.2" r="3.8" fill="#ffff00"/>
<circle cx="202.9" cy="677.2" r="3.8" fill="#ffff00"/>
<circle cx="207.5" cy="677.2" r="3.8" fill="#ffff00"/>
<circle cx="212.2" cy="677.2" r="3.8" fill="#ffff00"/>
<circle cx="216.8" cy="677.2" r="3.8" fill="#ffff00"/>
<circle cx="221.4" cy="677.2" r="3.8" fill="#ffff00"/>
<circle cx="226.1" cy="677.2" r="3.8" fill="#ffff00"/>
<circle cx="230.7" cy="677.2" r="3.8" fill="#ffff00"/>
<circle cx="235.3" cy="677.2" r="3.8" fill="#ffff00"/>
<circle cx="240" cy="677.2" r="3.8" fill="#ffff00"/>
<circle cx="244.6" cy="677.2" r="3.8" fill="#ffff00"/>
<circle cx="249.2" cy="677.2" r="3.8" fill="#ffff00"/>
<circle cx="253.9" cy="677.2" r="3.8" fill="#ffff00"/>
<circle cx="258.5" cy="677.2" r="3.8" fill="#ffff00"/>
<circle cx="263.1" cy="677.2" r="3.8" fill="#ffff00"/>
<circle cx="267.8" cy="677.2" r="3.8" fill="#ffff00"/>
<circle cx="272.4" cy="677.2" r="3.8" fill="#ffff00"/>
<circle cx="277" cy="677.2" r="3.8" fill="#ffff00"/>
<circle cx="281.6" cy="677.2" r="3.8" fill="#ffff00"/>
<circle cx="286.3" cy="677.2" r="3.8" fill="#ffff00"/>
<circle cx="290.9" cy="677.2" r="3.8" fill="#ffff00"/>
<circle cx="295.5" cy="677.2" r="3.8" fill="#ffff00"/>
<circle cx="300.2" cy="677.2" r="3.8" fill="#ffff00"/>
<circle cx="304.8" cy="677.2" r="3.8" fill="#ffff00"/>
<circle cx="309.4" cy="677.2" r="3.8" fill="#ffff00"/>
<circle cx="314.1" cy="677.2" r="3.8" fill="#ffff00"/>
<circle cx="318.7" cy="677.2" r="3.8" fill="#ffff00"/>
<line x1="128.7" y1="580.9" x2="156.8" y2="580.9" stroke="#cc0066" stroke-width="2"/>
<circle cx="142.8" cy="580.9" r="4.1" fill="#cc0066"/>
<text x="159.2" y="584.8" class="l">Ratio</text>
<line x1="215" y1="580.9" x2="242.6" y2="580.9" stroke="#ffff00" stroke-width="2"/>
<circle cx="228.8" cy="580.9" r="4.1" fill="#ffff00"/>
<text x="244.8" y="584.8" class="l">Normal</text>
<text transform="translate(16.1,666.2) rotate(-90)" class="b" text-anchor="middle">Fc (MPa)</text>
<text x="191.1" y="768" class="b" text-anchor="middle">Row number</text>
<text x="167.4" y="802.5" class="s" text-anchor="middle">(e)</text>
<rect x="394.1" y="567.7" width="274" height="164.3" fill="none" stroke="#000" stroke-width="2"/>
<text x="383.6" y="736.1" class="t" text-anchor="end">0</text>
<line x1="394.1" y1="690.9" x2="398.1" y2="690.9" stroke="#000" stroke-width="1.3"/>
<text x="383.6" y="695" class="t" text-anchor="end">0.5</text>
<line x1="394.1" y1="649.9" x2="398.1" y2="649.9" stroke="#000" stroke-width="1.3"/>
<text x="383.6" y="654" class="t" text-anchor="end">1</text>
<line x1="394.1" y1="608.8" x2="398.1" y2="608.8" stroke="#000" stroke-width="1.3"/>
<text x="383.6" y="612.9" class="t" text-anchor="end">1.5</text>
<text x="383.6" y="571.8" class="t" text-anchor="end">2</text>
<text x="394.1" y="750.8" class="t" text-anchor="middle">60</text>
<line x1="462.6" y1="732" x2="462.6" y2="728" stroke="#000" stroke-width="1.3"/>
<text x="462.6" y="750.8" class="t" text-anchor="middle">65</text>
<line x1="531.1" y1="732" x2="531.1" y2="728" stroke="#000" stroke-width="1.3"/>
<text x="531.1" y="750.8" class="t" text-anchor="middle">70</text>
<line x1="599.6" y1="732" x2="599.6" y2="728" stroke="#000" stroke-width="1.3"/>
<text x="599.6" y="750.8" class="t" text-anchor="middle">75</text>
<text x="668.1" y="750.8" class="t" text-anchor="middle">80</text>
<polyline points="407.8,645.3 421.5,702.7 435.2,708.3 448.9,712.3 462.6,715 476.3,722 490,685.9 503.7,645.3 517.4,648.2 531.1,645.9 544.8,701.5 558.5,646.3 572.2,663.4 585.9,671.7 599.6,678.7 613.3,675.2" fill="none" stroke="#cc0066" stroke-width="2" stroke-linejoin="round"/>
<circle cx="407.8" cy="645.3" r="3.6" fill="#cc0066"/>
<circle cx="421.5" cy="702.7" r="3.6" fill="#cc0066"/>
<circle cx="435.2" cy="708.3" r="3.6" fill="#cc0066"/>
<circle cx="448.9" cy="712.3" r="3.6" fill="#cc0066"/>
<circle cx="462.6" cy="715" r="3.6" fill="#cc0066"/>
<circle cx="476.3" cy="722" r="3.6" fill="#cc0066"/>
<circle cx="490" cy="685.9" r="3.6" fill="#cc0066"/>
<circle cx="503.7" cy="645.3" r="3.6" fill="#cc0066"/>
<circle cx="517.4" cy="648.2" r="3.6" fill="#cc0066"/>
<circle cx="531.1" cy="645.9" r="3.6" fill="#cc0066"/>
<circle cx="544.8" cy="701.5" r="3.6" fill="#cc0066"/>
<circle cx="558.5" cy="646.3" r="3.6" fill="#cc0066"/>
<circle cx="572.2" cy="663.4" r="3.6" fill="#cc0066"/>
<circle cx="585.9" cy="671.7" r="3.6" fill="#cc0066"/>
<circle cx="599.6" cy="678.7" r="3.6" fill="#cc0066"/>
<circle cx="613.3" cy="675.2" r="3.6" fill="#cc0066"/>
<polyline points="407.8,649.9 421.5,649.9 435.2,649.9 448.9,649.9 462.6,649.9 476.3,649.9 490,649.9 503.7,649.9 517.4,649.9 531.1,649.9 544.8,649.9 558.5,649.9 572.2,649.9 585.9,649.9 599.6,649.9 613.3,649.9" fill="none" stroke="#ffff00" stroke-width="2" stroke-linejoin="round"/>
<circle cx="407.8" cy="649.9" r="3.6" fill="#ffff00"/>
<circle cx="421.5" cy="649.9" r="3.6" fill="#ffff00"/>
<circle cx="435.2" cy="649.9" r="3.6" fill="#ffff00"/>
<circle cx="448.9" cy="649.9" r="3.6" fill="#ffff00"/>
<circle cx="462.6" cy="649.9" r="3.6" fill="#ffff00"/>
<circle cx="476.3" cy="649.9" r="3.6" fill="#ffff00"/>
<circle cx="490" cy="649.9" r="3.6" fill="#ffff00"/>
<circle cx="503.7" cy="649.9" r="3.6" fill="#ffff00"/>
<circle cx="517.4" cy="649.9" r="3.6" fill="#ffff00"/>
<circle cx="531.1" cy="649.9" r="3.6" fill="#ffff00"/>
<circle cx="544.8" cy="649.9" r="3.6" fill="#ffff00"/>
<circle cx="558.5" cy="649.9" r="3.6" fill="#ffff00"/>
<circle cx="572.2" cy="649.9" r="3.6" fill="#ffff00"/>
<circle cx="585.9" cy="649.9" r="3.6" fill="#ffff00"/>
<circle cx="599.6" cy="649.9" r="3.6" fill="#ffff00"/>
<circle cx="613.3" cy="649.9" r="3.6" fill="#ffff00"/>
<line x1="453.3" y1="580.9" x2="481.5" y2="580.9" stroke="#cc0066" stroke-width="2"/>
<circle cx="467.4" cy="580.9" r="4.1" fill="#cc0066"/>
<text x="483.8" y="584.8" class="l">Ratio</text>
<line x1="551.8" y1="580.9" x2="579.8" y2="580.9" stroke="#ffff00" stroke-width="2"/>
<circle cx="565.8" cy="580.9" r="4.1" fill="#ffff00"/>
<text x="582.2" y="584.8" class="l">Normal</text>
<text transform="translate(364.5,655.3) rotate(-90)" class="b" text-anchor="middle">Fc (MPa)</text>
<text x="540.4" y="767.9" class="b" text-anchor="middle">Row number</text>
<text x="516.9" y="803" class="s" text-anchor="middle">(f)</text>
</svg>
</body></html>
